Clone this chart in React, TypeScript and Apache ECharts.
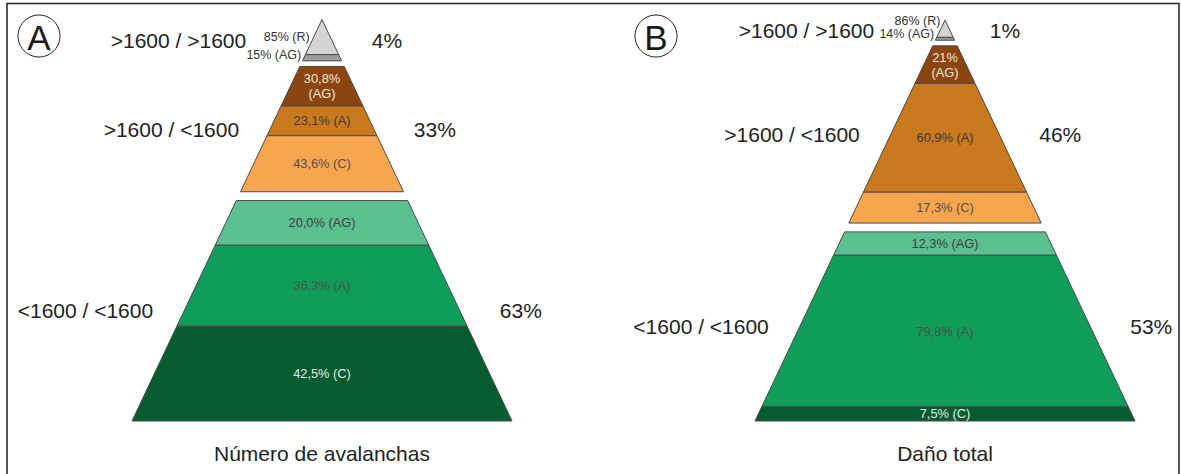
import React, { useEffect, useRef } from "react";
import * as echarts from "echarts";

// ---------- data ----------
const tierNames = [">1600 / >1600", ">1600 / <1600", "<1600 / <1600"];
const classesByTier = [["R", "AG"], ["AG", "A", "C"], ["AG", "A", "C"]];
const panelLetters = ["A", "B"];
const panelTitles = ["Número de avalanchas", "Daño total"];

const tierPctA = [4, 33, 63];
const tierPctB = [1, 46, 53];

const segPctA = [[85, 15], [30.8, 23.1, 43.6], [20.0, 36.3, 42.5]];
const segPctB = [[86, 14], [21, 60.9, 17.3], [12.3, 79.8, 7.5]];

// number of decimals shown in each segment label
const segDecA = [[0, 0], [1, 1, 1], [1, 1, 1]];
const segDecB = [[0, 0], [0, 1, 1], [1, 1, 1]];

// ---------- layout / style ----------
const FONT = '"Liberation Sans", Arial, Helvetica, sans-serif';
const apexShare = [11, 5.74]; // visual share of the apex tier (enlarged for legibility)
const tierGaps = [1.4, 2.2];
const grids = [
  { left: 132, top: 19.5, width: 380, height: 401.5 },
  { left: 755, top: 20, width: 380, height: 401 },
];
const tierFill = [
  ["#d3d4d6", "#9c9d9f"],
  ["#8a4511", "#c9791e", "#f7a54f"],
  ["#5cbf8f", "#0f9d59", "#045c2f"],
];
const tierTextColor = [
  ["#333333", "#333333"],
  ["#f4e6d8", "#3a3a3a", "#505050"],
  ["#3c3c3c", "#4a504b", "#e4ece7"],
];

const fmt = (v: number, d: number) => v.toFixed(d).replace(".", ",") + "%";

function bandsFor(p: number) {
  const tp = p === 0 ? tierPctA : tierPctB;
  const e1 = apexShare[p];
  const e2 = e1 + tp[1];
  return [
    [0, e1 - tierGaps[0] / 2],
    [e1 + tierGaps[0] / 2, e2 - tierGaps[1] / 2],
    [e2 + tierGaps[1] / 2, 100],
  ];
}

function segmentsFor(p: number) {
  const sp = p === 0 ? segPctA : segPctB;
  const bands = bandsFor(p);
  const out: number[][] = [];
  bands.forEach(([s, e], ti) => {
    const vals = sp[ti];
    const total = vals.reduce((a, b) => a + b, 0);
    let acc = 0;
    vals.forEach((v, si) => {
      const t = s + ((e - s) * acc) / total;
      acc += v;
      const b = s + ((e - s) * acc) / total;
      out.push([t, b, ti, si, e]);
    });
  });
  return out;
}

function segRender(p: number) {
  return (params: any, api: any) => {
    const t = api.value(0);
    const b = api.value(1);
    const ti = api.value(2);
    const si = api.value(3);
    const bandEnd = api.value(4);
    const pts = [
      api.coord([-t / 100, t]),
      api.coord([t / 100, t]),
      api.coord([b / 100, b]),
      api.coord([-b / 100, b]),
    ];
    const sp = p === 0 ? segPctA : segPctB;
    const sd = p === 0 ? segDecA : segDecB;
    const cls = classesByTier[ti][si];
    const pct = fmt(sp[ti][si], sd[ti][si]);
    const m = (t + b) / 2;
    const children: any[] = [
      {
        type: "polygon",
        shape: { points: pts },
        style: { fill: tierFill[ti][si], stroke: "#4a4a4a", lineWidth: 1 },
      },
    ];
    if (ti === 0) {
      // labels of the apex tier sit outside, left of the triangle, stacked so they do not overlap
      const bottomY = api.coord([0, bandEnd])[1];
      let y = api.coord([0, m])[1];
      const sp2 = sp[0];
      const total = sp2[0] + sp2[1];
      const agTop = (bandEnd * sp2[0]) / total;
      const agMidY = api.coord([0, (agTop + bandEnd) / 2])[1];
      const agY = Math.min(agMidY, bottomY - 6);
      if (si === 1) {
        y = agY;
      } else {
        y = Math.min(y, agY - 13);
      }
      const y0 = api.coord([0, 0])[1];
      const y100 = api.coord([0, 100])[1];
      const d = ((y - y0) / (y100 - y0)) * 100;
      const c = api.coord([-d / 100, d]);
      children.push({
        type: "text",
        x: c[0] - 4,
        y: y,
        style: {
          text: pct + " (" + cls + ")",
          fill: tierTextColor[ti][si],
          fontSize: 12.5,
          lineHeight: 12,
          fontFamily: FONT,
          align: "right",
          verticalAlign: "middle",
        },
      });
    } else {
      const c = api.coord([0, m]);
      const twoLine = ti === 1 && cls === "AG";
      children.push({
        type: "text",
        x: c[0],
        y: c[1],
        style: {
          text: twoLine ? pct + "\n(" + cls + ")" : pct + " (" + cls + ")",
          fill: tierTextColor[ti][si],
          fontSize: 12.8,
          lineHeight: 15,
          fontFamily: FONT,
          align: "center",
          verticalAlign: "middle",
        },
      });
    }
    return { type: "group", children };
  };
}

function tierRender(p: number) {
  return (params: any, api: any) => {
    const s = api.value(0);
    const e = api.value(1);
    const ti = api.value(2);
    const tp = p === 0 ? tierPctA : tierPctB;
    const m = (s + e) / 2;
    const l = api.coord([-m / 100, m]);
    const r = api.coord([m / 100, m]);
    return {
      type: "group",
      children: [
        {
          type: "text",
          x: l[0] - (ti === 0 ? 66 : 31),
          y: l[1],
          style: {
            text: tierNames[ti],
            fill: "#222222",
            fontSize: 21,
            fontFamily: FONT,
            align: "right",
            verticalAlign: "middle",
          },
        },
        {
          type: "text",
          x: r[0] + 40,
          y: r[1],
          style: {
            text: tp[ti] + "%",
            fill: "#222222",
            fontSize: 21,
            fontFamily: FONT,
            align: "left",
            verticalAlign: "middle",
          },
        },
      ],
    };
  };
}

function buildOption() {
  const series: any[] = [];
  [0, 1].forEach((p) => {
    series.push({
      type: "custom",
      xAxisIndex: p,
      yAxisIndex: p,
      clip: false,
      silent: true,
      renderItem: segRender(p),
      data: segmentsFor(p),
    });
    series.push({
      type: "custom",
      xAxisIndex: p,
      yAxisIndex: p,
      clip: false,
      silent: true,
      renderItem: tierRender(p),
      data: bandsFor(p).map((b, i) => [b[0], b[1], i]),
    });
  });

  const graphics: any[] = [
    {
      type: "polyline",
      shape: { points: [[7, 480], [7, 3.5], [1179, 3.5], [1179, 480]] },
      style: { fill: "none", stroke: "#222222", lineWidth: 1.5 },
    },
  ];
  const letterPos = [[39, 36], [656, 36]];
  panelLetters.forEach((L, i) => {
    graphics.push({
      type: "circle",
      shape: { cx: letterPos[i][0], cy: letterPos[i][1], r: 21 },
      style: { fill: "none", stroke: "#222222", lineWidth: 1 },
    });
    graphics.push({
      type: "text",
      x: letterPos[i][0],
      y: letterPos[i][1] + 1,
      style: {
        text: L,
        fill: "#1a1a1a",
        fontSize: 35,
        fontFamily: FONT,
        align: "center",
        verticalAlign: "middle",
        textAlign: "center",
        textVerticalAlign: "middle",
      },
    });
  });
  panelTitles.forEach((T, i) => {
    const g = grids[i];
    graphics.push({
      type: "text",
      x: g.left + g.width / 2,
      y: 453,
      style: {
        text: T,
        fill: "#222222",
        fontSize: 21,
        fontFamily: FONT,
        align: "center",
        verticalAlign: "middle",
        textAlign: "center",
        textVerticalAlign: "middle",
      },
    });
  });

  return {
    animation: false,
    backgroundColor: "#ffffff",
    grid: grids.map((g) => ({ ...g })),
    xAxis: [0, 1].map((i) => ({ type: "value", gridIndex: i, min: -1, max: 1, show: false })),
    yAxis: [0, 1].map((i) => ({ type: "value", gridIndex: i, min: 0, max: 100, inverse: true, show: false })),
    series,
    graphic: graphics,
  };
}

export default function App() {
  const ref = useRef<HTMLDivElement>(null);
  useEffect(() => {
    if (!ref.current) return;
    const chart = echarts.init(ref.current, null, { renderer: "svg" });
    chart.setOption(buildOption() as any);
    return () => chart.dispose();
  }, []);
  return (
    <div
      ref={ref}
      style={{ position: "fixed", left: 0, top: 0, width: 1181, height: 474, background: "#fff" }}
    />
  );
}
